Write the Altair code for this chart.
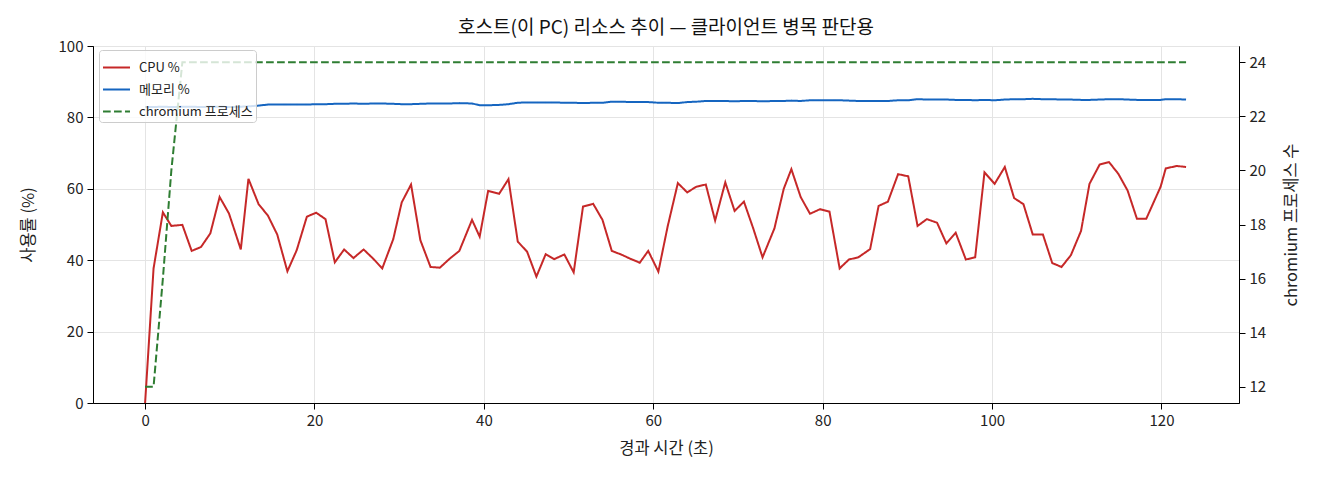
import altair as alt
import pandas as pd

# elapsed seconds of each sample
seconds = [
    0.0, 1.0, 2.1, 3.1, 4.4, 5.5, 6.6, 7.7, 8.8, 9.9,
    11.3, 12.2, 13.4, 14.5, 15.6, 16.8, 17.9, 19.1, 20.2, 21.3,
    22.4, 23.5, 24.6, 25.8, 26.9, 28.0, 29.3, 30.3, 31.4, 32.5,
    33.7, 34.8, 36.0, 37.1, 38.6, 39.5, 40.5, 41.8, 42.9, 44.0,
    45.1, 46.2, 47.3, 48.3, 49.5, 50.6, 51.7, 52.9, 54.0, 55.1,
    56.2, 57.3, 58.4, 59.4, 60.6, 61.7, 62.9, 64.0, 65.1, 66.2,
    67.3, 68.5, 69.6, 70.7, 71.8, 72.9, 74.3, 75.4, 76.3, 77.4,
    78.5, 79.7, 80.8, 82.0, 83.1, 84.2, 85.6, 86.6, 87.7, 88.9,
    90.1, 91.2, 92.3, 93.5, 94.6, 95.7, 96.9, 98.0, 99.1, 100.3,
    101.5, 102.6, 103.7, 104.8, 106.0, 107.1, 108.2, 109.3, 110.5, 111.5,
    112.7, 113.8, 114.9, 116.0, 117.1, 118.2, 119.9, 120.5, 121.8, 122.9,
]
cpu_pct = [
    0.0, 37.7, 53.4, 49.6, 49.9, 42.6, 43.7, 47.5, 57.7, 53.1,
    43.0, 62.8, 55.7, 52.5, 47.2, 36.9, 42.8, 52.2, 53.3, 51.5,
    39.4, 43.0, 40.6, 43.0, 40.5, 37.7, 45.9, 56.2, 61.2, 45.6,
    38.1, 37.9, 40.5, 42.6, 51.3, 46.6, 59.4, 58.6, 62.7, 45.2,
    42.4, 35.4, 41.7, 40.3, 41.6, 36.6, 55.0, 55.8, 51.3, 42.6,
    41.6, 40.4, 39.3, 42.6, 36.8, 49.5, 61.6, 59.0, 60.6, 61.2,
    51.1, 61.8, 53.8, 56.4, 48.9, 40.8, 48.9, 60.0, 65.5, 57.7,
    53.0, 54.3, 53.6, 37.7, 40.2, 40.8, 43.1, 55.2, 56.4, 64.1,
    63.5, 49.6, 51.5, 50.5, 44.7, 47.7, 40.2, 40.8, 64.6, 61.4,
    66.1, 57.4, 55.7, 47.2, 47.2, 39.2, 38.1, 41.4, 48.2, 61.4,
    66.8, 67.5, 64.2, 59.5, 51.6, 51.6, 60.6, 65.7, 66.4, 66.1,
]
mem_pct = [
    82.9, 82.9, 83.0, 82.9, 83.0, 83.0, 82.9, 83.0, 83.0, 82.9,
    83.0, 83.1, 83.3, 83.6, 83.6, 83.6, 83.6, 83.6, 83.7, 83.7,
    83.8, 83.8, 83.9, 83.8, 83.9, 83.9, 83.8, 83.7, 83.7, 83.8,
    83.9, 83.9, 83.9, 84.0, 83.9, 83.4, 83.4, 83.5, 83.7, 84.1,
    84.2, 84.2, 84.2, 84.2, 84.1, 84.1, 84.0, 84.1, 84.1, 84.4,
    84.4, 84.3, 84.3, 84.3, 84.1, 84.1, 84.0, 84.3, 84.4, 84.6,
    84.6, 84.6, 84.5, 84.6, 84.6, 84.5, 84.6, 84.6, 84.7, 84.6,
    84.8, 84.8, 84.8, 84.8, 84.7, 84.6, 84.6, 84.6, 84.6, 84.8,
    84.8, 85.1, 85.0, 85.0, 85.0, 84.9, 84.9, 84.8, 84.9, 84.8,
    85.0, 85.1, 85.1, 85.2, 85.1, 85.1, 85.0, 85.0, 84.9, 84.9,
    85.0, 85.1, 85.1, 85.0, 84.9, 84.9, 84.9, 85.1, 85.1, 85.0,
]
chromium_procs = [12, 12, 16, 20] + [24] * 106

SERIES = ["CPU %", "메모리 %", "chromium 프로세스"]
COLORS = ["#c62828", "#1565c0", "#2e7d32"]
DASHES = [[1, 0], [1, 0], [7.7, 3.3]]
FONT = "Noto Sans CJK KR"

usage = pd.concat([
    pd.DataFrame({"t": seconds, "value": cpu_pct, "series": SERIES[0]}),
    pd.DataFrame({"t": seconds, "value": mem_pct, "series": SERIES[1]}),
])
procs = pd.DataFrame({"t": seconds, "count": chromium_procs, "series": SERIES[2]})

legend_opts = dict(
    title=None, orient="none", legendX=6, legendY=4,
    fillColor="rgba(255,255,255,0.8)", strokeColor="#cccccc", cornerRadius=3,
    padding=3, symbolType="stroke", symbolSize=729, symbolStrokeWidth=2,
    labelFontSize=13, labelFont=FONT, labelColor="#222222", rowPadding=-3, labelOffset=8,
)

x_enc = alt.X(
    "t:Q", title="경과 시간 (초)",
    scale=alt.Scale(domain=[-6.15, 129.15], nice=False, zero=False),
    axis=alt.Axis(values=list(range(0, 121, 20)), grid=True, titlePadding=12),
)
color_enc = alt.Color("series:N", scale=alt.Scale(domain=SERIES, range=COLORS),
                      legend=alt.Legend(**legend_opts))
dash_enc = alt.StrokeDash("series:N", scale=alt.Scale(domain=SERIES, range=DASHES),
                          legend=alt.Legend(**legend_opts))

left = alt.Chart(usage).mark_line(strokeWidth=2, clip=True).encode(
    x=x_enc,
    y=alt.Y("value:Q", title="사용률 (%)",
            scale=alt.Scale(domain=[0, 100], nice=False),
            axis=alt.Axis(values=list(range(0, 101, 20)), grid=True, titlePadding=22)),
    color=color_enc,
    strokeDash=dash_enc,
    detail="series:N",
)

right = alt.Chart(procs).mark_line(strokeWidth=2, clip=True).encode(
    x=x_enc,
    y=alt.Y("count:Q", title="chromium 프로세스 수",
            scale=alt.Scale(domain=[11.4, 24.6], nice=False, zero=False),
            axis=alt.Axis(orient="right", values=list(range(12, 25, 2)), grid=False,
                          titleAngle=270, titleBaseline="top", titlePadding=18)),
    color=color_enc,
    strokeDash=dash_enc,
)

chart = alt.layer(left, right).resolve_scale(y="independent").properties(
    width=1146, height=357,
    autosize=alt.AutoSizeParams(type="none"),
    padding={"left": 85, "top": 38, "right": 70, "bottom": 60},
    title=alt.Title("호스트(이 PC) 리소스 추이 — 클라이언트 병목 판단용",
                    fontSize=19, fontWeight="normal", font=FONT, color="#111111", offset=1),
).configure_view(
    stroke="black", strokeWidth=1,
).configure_axis(
    labelFont=FONT, titleFont=FONT, labelFontSize=15, titleFontSize=16.5,
    labelColor="#222222", titleColor="#222222", titleFontWeight="normal",
    domainColor="black", tickColor="black", tickSize=6, labelPadding=4,
    gridColor="#e4e4e4", gridWidth=1,
)

chart.save("out.html", embed_options={"renderer": "svg", "actions": False})
